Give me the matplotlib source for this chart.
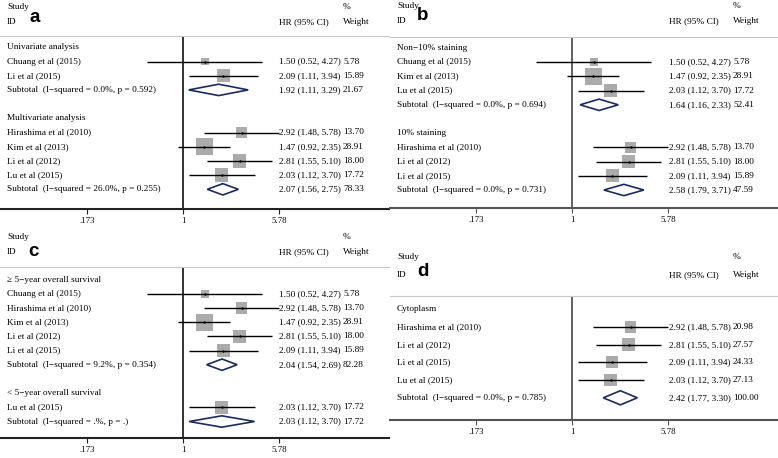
import numpy as np
import matplotlib
matplotlib.use("Agg")
import matplotlib.pyplot as plt
import matplotlib.transforms as mtransforms
from matplotlib.patches import Polygon
from matplotlib.ticker import NullLocator

plt.rcParams['font.family'] = ['Liberation Serif', 'DejaVu Serif']

# ---------------- data ----------------
tick_vals = [0.173, 1, 5.78]
tick_labels = [".173", "1", "5.78"]

# panel a
a_groups = ["Univariate analysis", "Multivariate analysis"]
a_study = [["Chuang et al (2015)", "Li et al (2015)"],
           ["Hirashima et al (2010)", "Kim et al (2013)", "Li et al (2012)", "Lu et al (2015)"]]
a_hr = [[1.50, 2.09], [2.92, 1.47, 2.81, 2.03]]
a_lo = [[0.52, 1.11], [1.48, 0.92, 1.55, 1.12]]
a_hi = [[4.27, 3.94], [5.78, 2.35, 5.10, 3.70]]
a_wt = [[5.78, 15.89], [13.70, 28.91, 18.00, 17.72]]
a_sub_hr = [1.92, 2.07]
a_sub_lo = [1.11, 1.56]
a_sub_hi = [3.29, 2.75]
a_sub_wt = [21.67, 78.33]
a_sub_i2 = ["0.0%", "26.0%"]
a_sub_p = ["0.592", "0.255"]

# panel b
b_groups = ["Non\u221210% staining", "10% staining"]
b_study = [["Chuang et al (2015)", "Kim et al (2013)", "Lu et al (2015)"],
           ["Hirashima et al (2010)", "Li et al (2012)", "Li et al (2015)"]]
b_hr = [[1.50, 1.47, 2.03], [2.92, 2.81, 2.09]]
b_lo = [[0.52, 0.92, 1.12], [1.48, 1.55, 1.11]]
b_hi = [[4.27, 2.35, 3.70], [5.78, 5.10, 3.94]]
b_wt = [[5.78, 28.91, 17.72], [13.70, 18.00, 15.89]]
b_sub_hr = [1.64, 2.58]
b_sub_lo = [1.16, 1.79]
b_sub_hi = [2.33, 3.71]
b_sub_wt = [52.41, 47.59]
b_sub_i2 = ["0.0%", "0.0%"]
b_sub_p = ["0.694", "0.731"]

# panel c
c_groups = ["\u2265 5\u2212year overall survival", "< 5\u2212year overall survival"]
c_study = [["Chuang et al (2015)", "Hirashima et al (2010)", "Kim et al (2013)",
            "Li et al (2012)", "Li et al (2015)"],
           ["Lu et al (2015)"]]
c_hr = [[1.50, 2.92, 1.47, 2.81, 2.09], [2.03]]
c_lo = [[0.52, 1.48, 0.92, 1.55, 1.11], [1.12]]
c_hi = [[4.27, 5.78, 2.35, 5.10, 3.94], [3.70]]
c_wt = [[5.78, 13.70, 28.91, 18.00, 15.89], [17.72]]
c_sub_hr = [2.04, 2.03]
c_sub_lo = [1.54, 1.12]
c_sub_hi = [2.69, 3.70]
c_sub_wt = [82.28, 17.72]
c_sub_i2 = ["9.2%", ".%"]
c_sub_p = ["0.354", "."]

# panel d
d_groups = ["Cytoplasm"]
d_study = [["Hirashima et al (2010)", "Li et al (2012)", "Li et al (2015)", "Lu et al (2015)"]]
d_hr = [[2.92, 2.81, 2.09, 2.03]]
d_lo = [[1.48, 1.55, 1.11, 1.12]]
d_hi = [[5.78, 5.10, 3.94, 3.70]]
d_wt = [[20.98, 27.57, 24.33, 27.13]]
d_sub_hr = [2.42]
d_sub_lo = [1.77]
d_sub_hi = [3.30]
d_sub_wt = [100.00]
d_sub_i2 = ["0.0%"]
d_sub_p = ["0.785"]

# ---------------- layout (pixels) ----------------
W, H = 778, 458
PW = 389
FS = 6.7

fig = plt.figure(figsize=(W / 100, H / 100), dpi=100)


def draw_panel(letter, groups, study, hr, lo, hi, wt, s_hr, s_lo, s_hi, s_wt, s_i2, s_p,
               x0, top, axis_y, cx, first, sp, study_y, id_y, let_xy, box_k, line_col):
    ax = fig.add_axes([x0 / W, 1 - axis_y / H, PW / W, (axis_y - top) / H])
    box_h = axis_y - top
    d = np.log10(5.78) / 96.0
    ax.set_xscale("log")
    ax.set_xlim(10 ** (-cx * d), 10 ** ((PW - cx) * d))

    # build rows: title, studies, subtotal, blank
    rows = []
    r = 0
    for g in range(len(groups)):
        rows.append(("title", g, None, r)); r += 1
        for i in range(len(study[g])):
            rows.append(("study", g, i, r)); r += 1
        rows.append(("sub", g, None, r)); r += 1
        r += 1
    ax.set_ylim((axis_y - first) / sp, -(first - top) / sp)

    trans = mtransforms.blended_transform_factory(ax.transAxes, ax.transData)
    xn, xh, xw = 7 / PW, 279 / PW, 343 / PW

    ax.axvline(1, color=line_col, lw=1.3, zorder=1)

    for kind, g, i, y in rows:
        if kind == "title":
            ax.text(xn, y, groups[g], transform=trans, va="center", fontsize=FS)
        elif kind == "study":
            ax.scatter([hr[g][i]], [y], s=box_k * wt[g][i], marker="s", color="#ababab",
                       edgecolors="none", zorder=2)
            ax.hlines(y, lo[g][i], hi[g][i], color="black", lw=1.0, zorder=3)
            ax.scatter([hr[g][i]], [y], s=3, color="black", zorder=4, linewidths=0)
            ax.text(xn, y, study[g][i], transform=trans, va="center", fontsize=FS)
            ax.text(xh, y, "%.2f (%.2f, %.2f)" % (hr[g][i], lo[g][i], hi[g][i]),
                    transform=trans, va="center", fontsize=FS)
            ax.text(xw, y, "%.2f" % wt[g][i], transform=trans, va="center", fontsize=FS)
        else:
            hh = 0.4
            dia = Polygon([(s_lo[g], y), (s_hr[g], y - hh), (s_hi[g], y), (s_hr[g], y + hh)],
                          closed=True, facecolor="white", edgecolor="#1c2a5e", lw=1.2, zorder=3)
            ax.add_patch(dia)
            ax.text(xn, y, "Subtotal  (I\u2212squared = %s, p = %s)" % (s_i2[g], s_p[g]),
                    transform=trans, va="center", fontsize=FS)
            ax.text(xh, y, "%.2f (%.2f, %.2f)" % (s_hr[g], s_lo[g], s_hi[g]),
                    transform=trans, va="center", fontsize=FS)
            ax.text(xw, y, "%.2f" % s_wt[g], transform=trans, va="center", fontsize=FS)

    # headers
    ys = 1 + (top - study_y) / box_h
    yi = 1 + (top - id_y) / box_h
    ax.text(xn, ys, "Study", transform=ax.transAxes, va="center", fontsize=FS)
    ax.text(xn, yi, "ID", transform=ax.transAxes, va="center", fontsize=FS)
    ax.text(xh, yi, "HR (95% CI)", transform=ax.transAxes, va="center", fontsize=FS)
    ax.text(xw, ys, "%", transform=ax.transAxes, va="center", fontsize=FS)
    ax.text(xw, yi, "Weight", transform=ax.transAxes, va="center", fontsize=FS)
    ax.text((let_xy[0] - x0) / PW, 1 + (top - let_xy[1]) / box_h, letter,
            transform=ax.transAxes, ha="center", va="center", fontsize=13.5,
            fontweight="bold", family="Liberation Sans")

    # axes styling
    for s in ["left", "right"]:
        ax.spines[s].set_visible(False)
    ax.spines["top"].set_color("#c8c8c8")
    ax.spines["top"].set_linewidth(0.8)
    ax.spines["bottom"].set_color(line_col)
    ax.spines["bottom"].set_linewidth(1.5)
    ax.set_yticks([])
    ax.set_xticks(tick_vals)
    ax.set_xticklabels(tick_labels)
    ax.xaxis.set_minor_locator(NullLocator())
    ax.tick_params(axis="x", length=3.5, width=0.8, color=line_col, labelsize=6.3, pad=2)
    ax.patch.set_alpha(0)
    return ax


draw_panel("a", a_groups, a_study, a_hr, a_lo, a_hi, a_wt, a_sub_hr, a_sub_lo, a_sub_hi,
           a_sub_wt, a_sub_i2, a_sub_p,
           x0=0, top=36, axis_y=209, cx=183, first=47.3, sp=14.2,
           study_y=7, id_y=22, let_xy=(35, 18), box_k=5.2, line_col="#222222")
draw_panel("b", b_groups, b_study, b_hr, b_lo, b_hi, b_wt, b_sub_hr, b_sub_lo, b_sub_hi,
           b_sub_wt, b_sub_i2, b_sub_p,
           x0=390, top=37, axis_y=208, cx=182, first=48, sp=14.2,
           study_y=6, id_y=21, let_xy=(423, 16), box_k=5.2, line_col="#555555")
draw_panel("c", c_groups, c_study, c_hr, c_lo, c_hi, c_wt, c_sub_hr, c_sub_lo, c_sub_hi,
           c_sub_wt, c_sub_i2, c_sub_p,
           x0=0, top=267, axis_y=438, cx=183, first=279.5, sp=14.2,
           study_y=237, id_y=252, let_xy=(33, 252), box_k=5.2, line_col="#222222")
draw_panel("d", d_groups, d_study, d_hr, d_lo, d_hi, d_wt, d_sub_hr, d_sub_lo, d_sub_hi,
           d_sub_wt, d_sub_i2, d_sub_p,
           x0=390, top=296, axis_y=420, cx=182, first=309.3, sp=17.7,
           study_y=257, id_y=275, let_xy=(423, 272), box_k=3.0, line_col="#555555")

fig.savefig("out.png", dpi=100)
